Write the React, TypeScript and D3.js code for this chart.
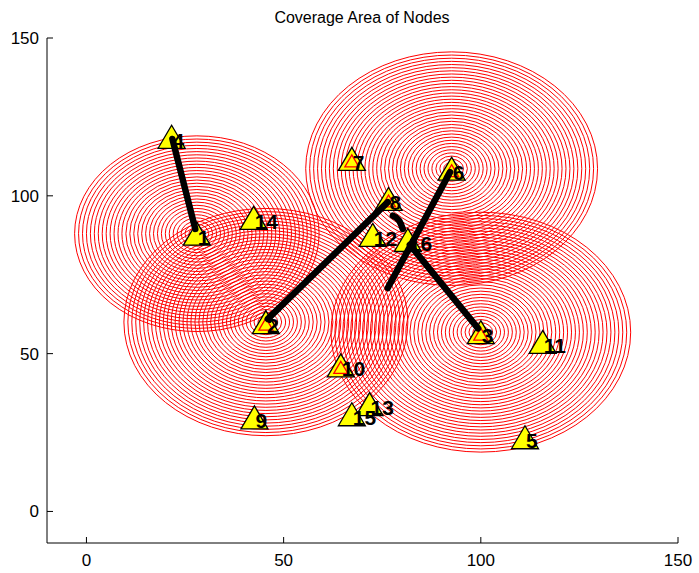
import React, { useEffect, useRef } from 'react';
import * as d3 from 'd3';

const nodeIds = [1, 2, 3, 4, 5, 6, 7, 8, 9, 10, 11, 12, 13, 14, 15, 16];
const nodeX = [28, 45.5, 100, 21.6, 111.2, 92.6, 67.3, 76.6, 42.6, 64.5, 115.7, 72.6, 71.8, 42.4, 67.3, 81.5];
const nodeY = [88, 60, 56.8, 118.7, 23.5, 108.6, 111.7, 99, 29.8, 46.3, 53.7, 87.6, 34, 93, 30.8, 86];

// nodes marked with the small red triangle
const markedNodes = [2, 3, 6, 7, 8, 10];

// coverage circles: centre node and radius
const coverNodes = [1, 2, 6, 3];
const coverRadius = [31, 36, 37, 38];

// black paths between nodes
const paths: [number, number][][] = [
  [[21.8, 118], [27.6, 89.5]],
  [[46, 61], [76.4, 98]],
  [[77.7, 93.7], [79.2, 92.3], [80.2, 89.5]],
  [[92.2, 107.5], [76.4, 70.8]],
  [[82, 84.5], [99.3, 58]],
];

const xTicks = [0, 50, 100, 150];
const yTicks = [0, 50, 100, 150];

const App = () => {
  const svgRef = useRef<SVGSVGElement>(null);

  useEffect(() => {
    const svg = d3.select(svgRef.current);
    svg.selectAll('*').remove();

    const x = d3.scaleLinear().domain([-10, 150]).range([47, 678]);
    const y = d3.scaleLinear().domain([-10, 150]).range([543, 38]);
    const font = 'Liberation Sans, Arial, sans-serif';

    svg.append('rect').attr('width', 699).attr('height', 573).attr('fill', '#fff');

    // coverage rings
    const rings = svg.append('g');
    coverNodes.forEach((id, i) => {
      const cx = x(nodeX[id - 1]);
      const cy = y(nodeY[id - 1]);
      d3.range(1, coverRadius[i] + 1).forEach(r => {
        rings.append('ellipse')
          .attr('cx', cx)
          .attr('cy', cy)
          .attr('rx', x(r) - x(0))
          .attr('ry', y(0) - y(r))
          .attr('fill', 'none')
          .attr('stroke', '#ff0000')
          .attr('stroke-width', 1);
      });
    });

    // triangles
    const tri = (cx: number, cy: number, w: number, h: number) =>
      `M${cx},${cy - h / 2}L${cx + w / 2},${cy + h / 2}L${cx - w / 2},${cy + h / 2}Z`;

    const nodes = svg.append('g');
    nodeIds.forEach((id, i) => {
      const cx = x(nodeX[i]);
      const cy = y(nodeY[i]);
      nodes.append('path')
        .attr('d', tri(cx, cy, 27, 23))
        .attr('fill', '#ffff00')
        .attr('stroke', '#000')
        .attr('stroke-width', 1.3)
        .attr('stroke-linejoin', 'miter');
      if (markedNodes.includes(id)) {
        nodes.append('path')
          .attr('d', tri(cx, cy + 2, 14, 12))
          .attr('fill', 'none')
          .attr('stroke', '#ff0000')
          .attr('stroke-width', 1.3);
      }
      nodes.append('text')
        .attr('x', cx + 1)
        .attr('y', cy + 11)
        .attr('font-family', font)
        .attr('font-weight', 'bold')
        .attr('font-size', 21)
        .attr('fill', '#000')
        .text(id);
    });

    // paths
    const line = d3.line<[number, number]>()
      .x(d => x(d[0]))
      .y(d => y(d[1]))
      .curve(d3.curveCardinal);
    paths.forEach(p => {
      svg.append('path')
        .attr('d', line(p))
        .attr('fill', 'none')
        .attr('stroke', '#000')
        .attr('stroke-width', 6.5)
        .attr('stroke-linecap', 'round');
    });

    // axes
    const axes = svg.append('g').attr('font-family', font).attr('font-size', 17);
    axes.append('line').attr('x1', 47).attr('x2', 47).attr('y1', 38).attr('y2', 543)
      .attr('stroke', '#000').attr('stroke-width', 1);
    axes.append('line').attr('x1', 47).attr('x2', 678).attr('y1', 543).attr('y2', 543)
      .attr('stroke', '#000').attr('stroke-width', 1);

    xTicks.forEach(t => {
      axes.append('line').attr('x1', x(t)).attr('x2', x(t)).attr('y1', 543).attr('y2', 537)
        .attr('stroke', '#000');
      axes.append('text').attr('x', x(t)).attr('y', 566)
        .attr('text-anchor', 'middle').text(t);
    });
    yTicks.forEach(t => {
      axes.append('line').attr('x1', 47).attr('x2', 53).attr('y1', y(t)).attr('y2', y(t))
        .attr('stroke', '#000');
      axes.append('text').attr('x', 39).attr('y', y(t) + 6)
        .attr('text-anchor', 'end').text(t);
    });

    svg.append('text')
      .attr('x', 362)
      .attr('y', 23)
      .attr('text-anchor', 'middle')
      .attr('font-family', font)
      .attr('font-size', 16)
      .text('Coverage Area of Nodes');
  }, []);

  return (
    <svg
      ref={svgRef}
      width={699}
      height={573}
      style={{ position: 'absolute', left: 0, top: 0 }}
    />
  );
};

export default App;
